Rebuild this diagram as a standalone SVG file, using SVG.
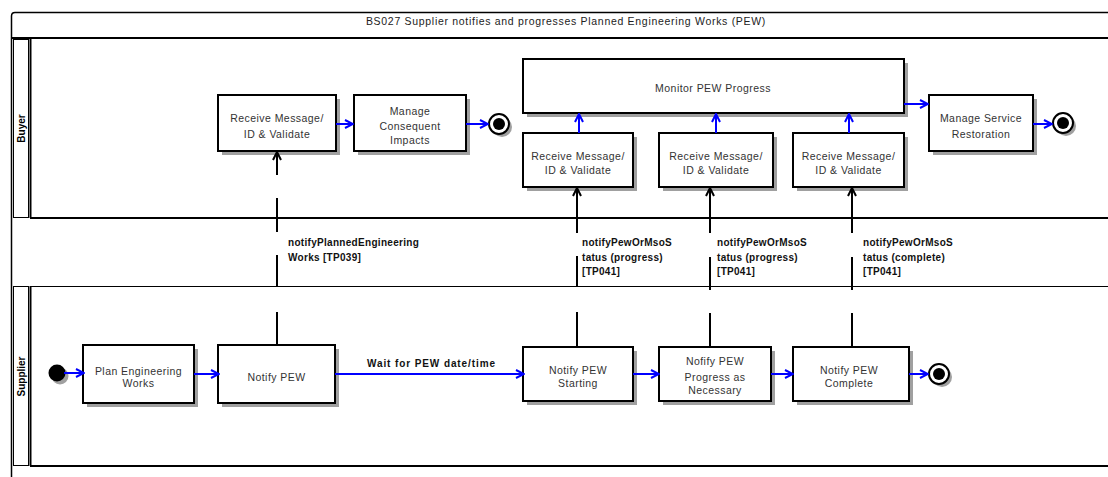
<svg xmlns="http://www.w3.org/2000/svg" width="1108" height="477" viewBox="0 0 1108 477">
<defs>
<style>
.frame{fill:none;stroke:#000;stroke-width:1.5}
.lane{fill:none;stroke:#000;stroke-width:2}
.thin{fill:none;stroke:#000;stroke-width:1}
.box{fill:#fff;stroke:#000;stroke-width:2}
.shadow{fill:#a0a0a0}
.nt{font-family:"Liberation Sans",Arial,sans-serif;font-size:10.5px;letter-spacing:0.45px;fill:#333;text-anchor:middle}
.title{font-family:"Liberation Sans",Arial,sans-serif;font-size:10.5px;letter-spacing:0.7px;fill:#222;text-anchor:middle}
.lbl{font-family:"Liberation Sans",Arial,sans-serif;font-size:10px;font-weight:bold;letter-spacing:0.3px;fill:#111}
.wait{letter-spacing:0.9px}
.ln{font-family:"Liberation Sans",Arial,sans-serif;font-size:10px;font-weight:bold;fill:#000;text-anchor:middle}
.flow{fill:none;stroke:#0000ff;stroke-width:2;marker-end:url(#ba)}
.msg{fill:none;stroke:#000;stroke-width:2;marker-end:url(#ka)}
</style>
<marker id="ba" viewBox="0 0 10 10" markerWidth="10" markerHeight="10" refX="9" refY="5" orient="auto" markerUnits="userSpaceOnUse">
<path d="M1,1 L9,5 L1,9" fill="none" stroke="#0000ff" stroke-width="2"/>
</marker>
<marker id="ka" viewBox="0 0 10 10" markerWidth="10" markerHeight="10" refX="9" refY="5" orient="auto" markerUnits="userSpaceOnUse">
<path d="M1,1 L9,5 L1,9" fill="none" stroke="#000" stroke-width="2"/>
</marker>
</defs>
<rect width="1108" height="477" fill="#fff"/>

<g id="frame">
<path class="frame" d="M11.5,477 L11.5,16 Q11.5,12.5 15,12.5 L1110,12.5"/>
<line class="lane" x1="11" y1="38" x2="1110" y2="38"/>
<text class="title" x="566" y="25">BS027 Supplier notifies and progresses Planned Engineering Works (PEW)</text>
</g>

<g id="lane-buyer">
<rect class="thin" x="13.5" y="39.5" width="15" height="178"/>
<line class="lane" x1="30.5" y1="38" x2="30.5" y2="218"/>
<line class="lane" x1="30" y1="218" x2="1110" y2="218"/>
<text class="ln" transform="translate(25,128.5) rotate(-90)">Buyer</text>
</g>

<g id="lane-supplier">
<line class="thin" x1="30" y1="286.5" x2="1110" y2="286.5"/>
<rect class="thin" x="13.5" y="286.5" width="15" height="179"/>
<line class="lane" x1="30.5" y1="286" x2="30.5" y2="466"/>
<line class="lane" x1="30" y1="466" x2="1110" y2="466"/>
<text class="ln" transform="translate(25,376.5) rotate(-90)">Supplier</text>
</g>

<g id="n-recv1">
<rect class="shadow" x="222" y="99" width="118" height="56"/>
<rect class="box" x="218" y="95" width="118" height="56"/>
<text class="nt" x="277" y="122">Receive Message/</text>
<text class="nt" x="277" y="138">ID &amp; Validate</text>
</g>
<g id="n-manage-impacts">
<rect class="shadow" x="358" y="99" width="112" height="56"/>
<rect class="box" x="354" y="95" width="112" height="56"/>
<text class="nt" x="410" y="115">Manage</text>
<text class="nt" x="410" y="129.5">Consequent</text>
<text class="nt" x="410" y="144">Impacts</text>
</g>
<g id="n-end1">
<circle cx="502" cy="127" r="10" fill="#a0a0a0"/>
<circle cx="499" cy="124" r="10" fill="#fff" stroke="#000" stroke-width="2"/>
<circle cx="499" cy="124" r="6" fill="#000"/>
</g>
<g id="n-monitor">
<rect class="shadow" x="527" y="63" width="381" height="54"/>
<rect class="box" x="523" y="59" width="381" height="54"/>
<text class="nt" x="713" y="92">Monitor PEW Progress</text>
</g>
<g id="n-recv2">
<rect class="shadow" x="527" y="137" width="110" height="54"/>
<rect class="box" x="523" y="133" width="110" height="54"/>
<text class="nt" x="578" y="160">Receive Message/</text>
<text class="nt" x="578" y="174">ID &amp; Validate</text>
</g>
<g id="n-recv3">
<rect class="shadow" x="663" y="137" width="114" height="54"/>
<rect class="box" x="659" y="133" width="114" height="54"/>
<text class="nt" x="716" y="160">Receive Message/</text>
<text class="nt" x="716" y="174">ID &amp; Validate</text>
</g>
<g id="n-recv4">
<rect class="shadow" x="797" y="137" width="111" height="54"/>
<rect class="box" x="793" y="133" width="111" height="54"/>
<text class="nt" x="848.5" y="160">Receive Message/</text>
<text class="nt" x="848.5" y="174">ID &amp; Validate</text>
</g>
<g id="n-restore">
<rect class="shadow" x="933" y="99" width="104" height="56"/>
<rect class="box" x="929" y="95" width="104" height="56"/>
<text class="nt" x="981" y="122">Manage Service</text>
<text class="nt" x="981" y="138">Restoration</text>
</g>
<g id="n-end2">
<circle cx="1066" cy="126" r="10" fill="#a0a0a0"/>
<circle cx="1063" cy="123" r="10" fill="#fff" stroke="#000" stroke-width="2"/>
<circle cx="1063" cy="123" r="6" fill="#000"/>
</g>

<g id="n-start">
<circle cx="60" cy="376" r="8.5" fill="#a0a0a0"/>
<circle cx="57" cy="373" r="8.5" fill="#000"/>
</g>
<g id="n-plan">
<rect class="shadow" x="87" y="349" width="111" height="58"/>
<rect class="box" x="83" y="345" width="111" height="58"/>
<text class="nt" x="138.5" y="374.5">Plan Engineering</text>
<text class="nt" x="138.5" y="387">Works</text>
</g>
<g id="n-notify">
<rect class="shadow" x="222" y="349" width="117" height="58"/>
<rect class="box" x="218" y="345" width="117" height="58"/>
<text class="nt" x="276.5" y="381">Notify PEW</text>
</g>
<g id="n-starting">
<rect class="shadow" x="527" y="351" width="110" height="54"/>
<rect class="box" x="523" y="347" width="110" height="54"/>
<text class="nt" x="578" y="374">Notify PEW</text>
<text class="nt" x="578" y="387">Starting</text>
</g>
<g id="n-progress">
<rect class="shadow" x="663" y="351" width="112" height="54"/>
<rect class="box" x="659" y="347" width="112" height="54"/>
<text class="nt" x="715" y="365">Nofify PEW</text>
<text class="nt" x="715" y="381">Progress as</text>
<text class="nt" x="715" y="394">Necessary</text>
</g>
<g id="n-complete">
<rect class="shadow" x="797" y="351" width="116" height="54"/>
<rect class="box" x="793" y="347" width="116" height="54"/>
<text class="nt" x="849" y="374">Notify PEW</text>
<text class="nt" x="849" y="387">Complete</text>
</g>
<g id="n-end3">
<circle cx="942" cy="377" r="10" fill="#a0a0a0"/>
<circle cx="939" cy="374" r="10" fill="#fff" stroke="#000" stroke-width="2"/>
<circle cx="939" cy="374" r="6" fill="#000"/>
</g>

<g id="connectors">
<path class="flow" d="M336,124 L353,124"/>
<path class="flow" d="M466,124 L488,124"/>
<path class="flow" d="M579,133 L579,114"/>
<path class="flow" d="M716,133 L716,114"/>
<path class="flow" d="M849,133 L849,114"/>
<path class="flow" d="M904,104 L928,104"/>
<path class="flow" d="M1033,124 L1052,124"/>
<path class="flow" d="M64,373 L84,373"/>
<path class="flow" d="M194,374 L219,374"/>
<path class="flow" d="M335,374 L524,374"/>
<path class="flow" d="M633,374 L659,374"/>
<path class="flow" d="M771,374 L793,374"/>
<path class="flow" d="M909,374 L928,374"/>
<text class="lbl wait" x="367" y="367">Wait for PEW date/time</text>

<path class="msg" d="M277,345 L277,312 M277,287 L277,255 M277,232 L277,198 M277,175 L277,152"/>
<path class="msg" d="M577,347 L577,312 M577,287 L577,256 M577,233 L577,188"/>
<path class="msg" d="M710,347 L710,313 M710,290 L710,257 M710,233 L710,188"/>
<path class="msg" d="M852,347 L852,313 M852,290 L852,257 M852,233 L852,188"/>
<text class="lbl" x="288" y="246">notifyPlannedEngineering</text>
<text class="lbl" x="288" y="261">Works [TP039]</text>
<text class="lbl" x="582" y="246">notifyPewOrMsoS</text>
<text class="lbl" x="582" y="261">tatus (progress)</text>
<text class="lbl" x="582" y="275">[TP041]</text>
<text class="lbl" x="717" y="246">notifyPewOrMsoS</text>
<text class="lbl" x="717" y="261">tatus (progress)</text>
<text class="lbl" x="717" y="275">[TP041]</text>
<text class="lbl" x="863" y="246">notifyPewOrMsoS</text>
<text class="lbl" x="863" y="261">tatus (complete)</text>
<text class="lbl" x="863" y="275">[TP041]</text>
</g>
</svg>
